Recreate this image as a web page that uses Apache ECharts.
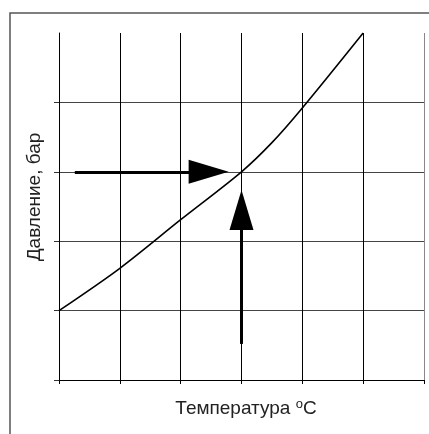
<!DOCTYPE html>
<html><head><meta charset="utf-8">
<script src="https://cdn.jsdelivr.net/npm/echarts@6/dist/echarts.min.js"></script>
<style>html,body{margin:0;padding:0;background:#fff}#c{width:429px;height:434px}</style>
</head><body><div id="c"></div>
<script>
// Curve: temperature (x, grid units) vs pressure (y, grid units)
const temperature = [0, 1, 2, 3, 3.5, 4, 5];
const pressure = [1, 1.61, 2.31, 3, 3.42, 3.92, 5];
// Axis tick values (no labels shown in the reference)
const xTicks = [0, 1, 2, 3, 4, 5, 6];
const yTicks = [0, 1, 2, 3, 4];
// Arrows (start, end) in data units; end = arrowhead centre
const hArrow = [[0.26, 3], [2.46, 3]];
const vArrow = [[3, 0.52], [3, 2.45]];
const xName = 'Температура ';
const xUnit = 'C';
const yName = 'Давление, бар';

const chart = echarts.init(document.getElementById('c'), null, {renderer: 'canvas'});
const FONT = 'Liberation Sans, Arial, sans-serif';
const head = {symbol: 'triangle', symbolSize: [24, 40]};
chart.setOption({
  animation: false,
  backgroundColor: '#fff',
  grid: {left: 59, right: 5, top: 33, bottom: 54},
  xAxis: {
    type: 'value', min: xTicks[0], max: xTicks[xTicks.length - 1], interval: 1,
    axisLine: {show: true, onZero: false, lineStyle: {color: '#000', width: 1}},
    axisTick: {show: true, length: 4, lineStyle: {color: '#000'}},
    axisLabel: {show: false},
    splitLine: {show: true, lineStyle: {color: ['#000', '#000', '#000', '#000', '#000', '#000', '#888'], width: 1}}
  },
  yAxis: {
    type: 'value', min: 0, max: 5, interval: 1,
    axisLine: {show: true, onZero: false, lineStyle: {color: '#000', width: 1}},
    axisTick: {show: true, length: 5, customValues: yTicks, lineStyle: {color: '#333'}},
    axisLabel: {show: false},
    splitLine: {show: true, lineStyle: {color: '#444', width: 1}}
  },
  series: [{
    type: 'line',
    data: temperature.map((t, i) => [t, pressure[i]]),
    smooth: 0.3,
    showSymbol: false,
    lineStyle: {color: '#000', width: 1.6},
    silent: true,
    markLine: {
      silent: true,
      symbol: ['none', 'none'],
      label: {show: false},
      lineStyle: {color: '#000', width: 3, type: 'solid'},
      data: [
        [{coord: hArrow[0]}, Object.assign({coord: hArrow[1]}, head)],
        [{coord: vArrow[0]}, Object.assign({coord: vArrow[1]}, head)]
      ]
    }
  }],
  graphic: [
    {type: 'rect', shape: {x: 10, y: 13, width: 440, height: 440}, style: {fill: 'none', stroke: '#555', lineWidth: 1.5}, silent: true},
    {type: 'text', x: 246, y: 409, silent: true,
      style: {text: xName + '{s|o}' + xUnit, align: 'center', verticalAlign: 'middle',
        font: '19px ' + FONT, fill: '#222',
        rich: {s: {fontSize: 13, fontFamily: FONT, fill: '#222', padding: [0, 0, 9, 0]}}}},
    {type: 'text', x: 35, y: 197, rotation: Math.PI / 2, silent: true,
      style: {text: yName, align: 'center', verticalAlign: 'middle', font: '19px ' + FONT, fill: '#222'}}
  ]
});
</script></body></html>
